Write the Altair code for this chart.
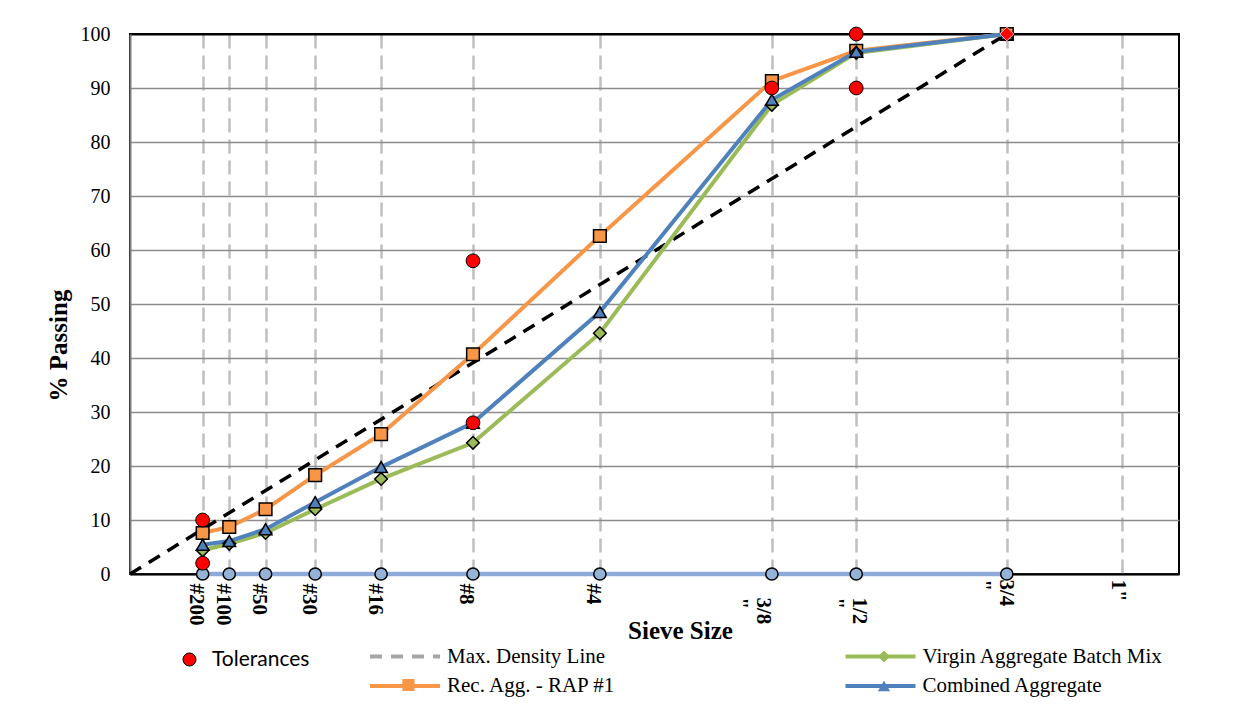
import json
import altair as alt
import pandas as pd

# ---------------- data ----------------
sieve_labels = ["#200", "#100", "#50", "#30", "#16", "#8", "#4", '3/8\n"', '1/2\n"', '3/4\n"', '1"']
sieve_mm = [0.075, 0.15, 0.3, 0.6, 1.18, 2.36, 4.75, 9.5, 12.5, 19.0, 25.0]

plot_sieves = [0.075, 0.15, 0.3, 0.6, 1.18, 2.36, 4.75, 9.5, 12.5, 19.0]
rap = [7.6, 8.7, 12.0, 18.3, 25.9, 40.7, 62.6, 91.3, 96.9, 100]
virgin = [4.4, 5.6, 7.6, 12.0, 17.6, 24.3, 44.6, 86.9, 96.5, 100]
combined = [5.4, 6.1, 8.3, 13.3, 19.8, 28.0, 48.5, 87.8, 96.7, 100]
baseline = [0, 0, 0, 0, 0, 0, 0, 0, 0, 0]

tol_sieve = [0.075, 0.075, 2.36, 2.36, 9.5, 12.5, 12.5, 19.0]
tol_value = [2, 10, 28, 58, 90, 90, 100, 100]

maxd_sieve = [0, 19.0]
maxd_value = [0, 100]

S_TOL = "Tolerances"
S_MD = "Max. Density Line"
S_RAP = "Rec. Agg. - RAP #1"
S_VIR = "Virgin Aggregate Batch Mix"
S_COM = "Combined Aggregate"

df_rap = pd.DataFrame({"sieve": plot_sieves, "value": rap, "series": S_RAP})
df_vc = pd.concat([
    pd.DataFrame({"sieve": plot_sieves, "value": virgin, "series": S_VIR}),
    pd.DataFrame({"sieve": plot_sieves, "value": combined, "series": S_COM}),
], ignore_index=True)
df_base = pd.DataFrame({"sieve": plot_sieves, "value": baseline})
df_tol = pd.DataFrame({"sieve": tol_sieve, "value": tol_value, "label": S_TOL})
df_md = pd.DataFrame({"sieve": maxd_sieve, "value": maxd_value})

# ---------------- styles ----------------
SERIF = "Liberation Serif"
ORANGE = "#f79646"
GREEN = "#9bbb59"
BLUE = "#4f81bd"

label_expr = "split(%s[indexof(%s, datum.value)], '\\n')" % (
    json.dumps(sieve_labels), json.dumps(sieve_mm))

x_axis = alt.Axis(
    values=sieve_mm, labelExpr=label_expr,
    labelAngle=90, labelAlign="left", labelBaseline="middle",
    labelFont=SERIF, labelFontWeight="bold", labelFontSize=21, labelColor="black",
    labelPadding={"condition": [
        {"test": "datum.value == 9.5 || datum.value == 12.5", "value": 23},
        {"test": "datum.value >= 19", "value": 5}], "value": 9},
    labelOffset={"condition": [
        {"test": "datum.value == 9.5", "value": -9},
        {"test": "datum.value == 12.5", "value": 2},
        {"test": "datum.value == 19", "value": -1},
        {"test": "datum.value == 25", "value": -5}], "value": -7},
    labelOverlap=False, labelFlush=False, labelBound=False,
    ticks=False, domainColor="black", domainWidth=2,
    grid=True, gridColor="#bfbfbf", gridDash=[14, 7], gridWidth=2.5,
    title="Sieve  Size", titleFont=SERIF, titleFontWeight="bold", titleFontSize=25,
    titleColor="black", titleX=550, titleY=56, titleAlign="center", titleBaseline="middle",
)
y_axis = alt.Axis(
    values=list(range(0, 101, 10)), ticks=False,
    domainColor="#7f7f7f", domainWidth=2,
    grid=True,
    gridColor={"condition": {"test": "datum.value == 100", "value": "black"}, "value": "#8c8c8c"},
    gridWidth={"condition": {"test": "datum.value == 100", "value": 2}, "value": 1.5},
    labelFont=SERIF, labelFontSize=20, labelColor="black", labelPadding=20,
    title="% Passing", titleFont=SERIF, titleFontWeight="bold", titleFontSize=25,
    titleColor="black", titleX=-72, titleY=311, titleAngle=270,
    titleAlign="center", titleBaseline="middle",
)

X = alt.X("sieve:Q", scale=alt.Scale(type="pow", exponent=0.45, domain=[0, 28.3], nice=False), axis=x_axis)
Y = alt.Y("value:Q", scale=alt.Scale(domain=[0, 100], nice=False), axis=y_axis)

line_leg = dict(orient="none", title=None, symbolType="stroke", symbolSize=4900,
                symbolStrokeWidth=4, labelFont=SERIF, labelFontSize=21, labelColor="black",
                labelOffset=5, rowPadding=7.5, clipHeight=21, labelLimit=0, direction="vertical")
mark_leg = dict(orient="none", title=None, symbolSize=150, symbolStrokeWidth=1.5,
                symbolStrokeColor="black", labelExpr="''", labelFontSize=21,
                rowPadding=7.5, clipHeight=21, direction="vertical")

legA = alt.Legend(legendX=238, legendY=612, **line_leg)
legAm = alt.Legend(legendX=268, legendY=640.5, symbolFillColor=ORANGE, symbolType="square", **mark_leg)
legB = alt.Legend(legendX=713.5, legendY=612, **line_leg)
legBm = alt.Legend(legendX=743.5, legendY=612, **mark_leg)
legT = alt.Legend(orient="none", legendX=49, legendY=615, title=None, symbolType="circle",
                  symbolSize=170, symbolStrokeColor="black", symbolStrokeWidth=1,
                  labelFont="Lato", labelFontSize=21, labelColor="black", labelOffset=12)

# ---------------- layers ----------------
md = alt.Chart(df_md).mark_line(color="black", strokeDash=[13, 9], strokeWidth=3.5).encode(x=X, y=Y)

base_line = alt.Chart(df_base).mark_line(color="#8eaadb", strokeWidth=4.5).encode(x=X, y=Y)
base_pts = alt.Chart(df_base).mark_point(shape="circle", filled=True, fill="#95b3d7", stroke="black",
                                         strokeWidth=1.5, size=150, opacity=1).encode(x=X, y=Y)

rap_line = alt.Chart(df_rap).mark_line(strokeWidth=4).encode(
    x=X, y=Y,
    stroke=alt.Stroke("series:N", scale=alt.Scale(domain=[S_MD, S_RAP], range=["#a6a6a6", ORANGE]), legend=legA),
    strokeDash=alt.StrokeDash("series:N", scale=alt.Scale(domain=[S_MD, S_RAP], range=[[12, 9], [1, 0]]), legend=legA),
)
rap_pts = alt.Chart(df_rap).mark_point(filled=True, fill=ORANGE, stroke="black", strokeWidth=1.5,
                                       size=160, opacity=1).encode(
    x=X, y=Y,
    shape=alt.Shape("series:N", scale=alt.Scale(domain=[S_RAP], range=["square"]), legend=legAm),
)

vc_line = alt.Chart(df_vc).mark_line(strokeWidth=4).encode(
    x=X, y=Y,
    stroke=alt.Stroke("series:N", scale=alt.Scale(domain=[S_VIR, S_COM], range=[GREEN, BLUE]), legend=legB),
)
vc_pts = alt.Chart(df_vc).mark_point(filled=True, stroke="black", strokeWidth=1.5, size=160, opacity=1).encode(
    x=X, y=Y,
    shape=alt.Shape("series:N", scale=alt.Scale(domain=[S_VIR, S_COM], range=["diamond", "triangle-up"]), legend=legBm),
    fill=alt.Fill("series:N", scale=alt.Scale(domain=[S_VIR, S_COM], range=[GREEN, BLUE]), legend=legBm),
)

tol_pts = alt.Chart(df_tol).mark_point(filled=True, strokeWidth=1, size=190, opacity=1).encode(
    x=X, y=Y,
    fill=alt.Fill("label:N", scale=alt.Scale(domain=[S_TOL], range=["#ff0000"]), legend=legT),
    shape=alt.condition("datum.sieve == 19", alt.value("diamond"), alt.value("circle")),
    stroke=alt.condition("datum.sieve == 19", alt.value("#f4b8b0"), alt.value("black")),
)

chart = alt.layer(
    md, base_line, base_pts, rap_line, rap_pts, vc_line, vc_pts, tol_pts
).resolve_scale(
    stroke="independent", strokeDash="independent", shape="independent", fill="independent"
).resolve_legend(
    stroke="independent", strokeDash="independent", shape="independent", fill="independent"
).properties(
    width=1049, height=540,
    autosize=alt.AutoSizeParams(type="none"),
    padding={"left": 122, "top": 26, "right": 51, "bottom": 131},
    background="white",
).configure_view(stroke="black", strokeWidth=2)

chart.save("out.html", embed_options={"renderer": "svg", "actions": False})
